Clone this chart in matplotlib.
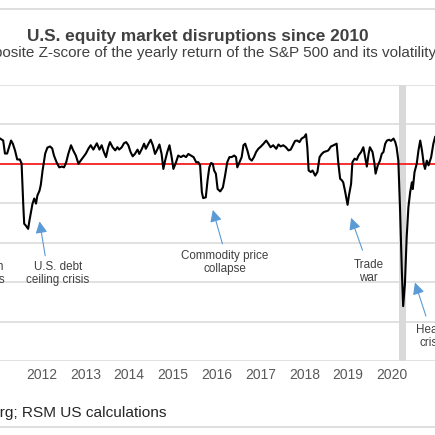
import matplotlib
matplotlib.use("Agg")
import matplotlib.pyplot as plt
from matplotlib.lines import Line2D

plt.rcParams['font.family'] = ['Liberation Sans', 'DejaVu Sans']
plt.rcParams['savefig.bbox'] = 'standard'

# composite z-score (decimal year, score)
years = [2011.05, 2011.12, 2011.16, 2011.21, 2011.30, 2011.34, 2011.39, 2011.44, 2011.50, 2011.54,
         2011.58, 2011.60, 2011.64, 2011.69, 2011.72, 2011.75, 2011.79, 2011.83, 2011.87, 2011.90,
         2011.95, 2011.98, 2012.02, 2012.08, 2012.13, 2012.19, 2012.24, 2012.28, 2012.34, 2012.40,
         2012.46, 2012.51, 2012.56, 2012.61, 2012.67, 2012.72, 2012.78, 2012.84, 2012.89, 2012.95,
         2013.01, 2013.07, 2013.12, 2013.18, 2013.26, 2013.32, 2013.37, 2013.42, 2013.47, 2013.52,
         2013.56, 2013.62, 2013.68, 2013.73, 2013.77, 2013.83, 2013.88, 2013.93, 2013.98, 2014.03,
         2014.08, 2014.13, 2014.19, 2014.23, 2014.29, 2014.34, 2014.38, 2014.44, 2014.49, 2014.54,
         2014.59, 2014.64, 2014.69, 2014.74, 2014.78, 2014.82, 2014.87, 2014.92, 2014.97, 2015.01,
         2015.07, 2015.12, 2015.18, 2015.24, 2015.30, 2015.35, 2015.41, 2015.47, 2015.53, 2015.58,
         2015.62, 2015.66, 2015.69, 2015.75, 2015.79, 2015.83, 2015.87, 2015.91, 2015.94, 2015.98,
         2016.02, 2016.08, 2016.14, 2016.19, 2016.24, 2016.29, 2016.34, 2016.40, 2016.44, 2016.47,
         2016.52, 2016.57, 2016.61, 2016.65, 2016.70, 2016.75, 2016.80, 2016.85, 2016.90, 2016.95,
         2017.01, 2017.07, 2017.13, 2017.18, 2017.23, 2017.29, 2017.36, 2017.41, 2017.46, 2017.52,
         2017.58, 2017.64, 2017.69, 2017.74, 2017.79, 2017.84, 2017.89, 2017.94, 2018.00, 2018.04,
         2018.07, 2018.10, 2018.15, 2018.19, 2018.25, 2018.30, 2018.35, 2018.40, 2018.45, 2018.51,
         2018.55, 2018.61, 2018.67, 2018.74, 2018.78, 2018.82, 2018.86, 2018.89, 2018.93, 2018.97,
         2018.99, 2019.02, 2019.07, 2019.10, 2019.15, 2019.20, 2019.24, 2019.30, 2019.35, 2019.39,
         2019.43, 2019.47, 2019.50, 2019.56, 2019.60, 2019.63, 2019.68, 2019.73, 2019.77, 2019.81,
         2019.85, 2019.89, 2019.94, 2019.98, 2020.04, 2020.08, 2020.11, 2020.15, 2020.19, 2020.23,
         2020.26, 2020.30, 2020.34, 2020.38, 2020.42, 2020.46, 2020.48, 2020.52, 2020.57, 2020.61,
         2020.65, 2020.69, 2020.73, 2020.76, 2020.80, 2020.84, 2020.90, 2020.95, 2020.99]
zscore = [0.64, 0.59, 0.26, 0.26, 0.59, 0.51, 0.34, 0.11, 0.11, 0.01,
          -1.07, -1.52, -1.57, -1.65, -1.44, -1.26, -1.01, -0.88, -1.01, -0.81,
          -0.68, -0.53, -0.17, 0.26, 0.41, 0.44, 0.39, 0.21, 0.04, -0.09,
          -0.07, -0.09, 0.04, 0.26, 0.47, 0.34, 0.21, 0.00, 0.08, 0.17,
          0.26, 0.39, 0.47, 0.36, 0.52, 0.36, 0.47, 0.30, 0.17, 0.42,
          0.55, 0.42, 0.34, 0.42, 0.36, 0.42, 0.52, 0.55, 0.47, 0.30,
          0.19, 0.25, 0.36, 0.25, 0.38, 0.51, 0.38, 0.51, 0.61, 0.47,
          0.25, 0.36, 0.49, 0.25, -0.13, 0.08, 0.30, 0.47, 0.17, -0.13,
          0.04, 0.21, 0.17, 0.21, 0.17, 0.25, 0.21, 0.17, 0.04, 0.04,
          -0.04, -0.72, -0.87, -0.85, -0.42, -0.09, 0.02, 0.00, -0.17, -0.25,
          -0.64, -0.70, -0.60, -0.30, 0.04, 0.17, 0.17, 0.21, 0.17, -0.09,
          0.04, 0.17, 0.47, 0.51, 0.34, 0.13, 0.08, 0.17, 0.30, 0.38,
          0.44, 0.51, 0.59, 0.51, 0.42, 0.47, 0.38, 0.49, 0.44, 0.47,
          0.42, 0.34, 0.36, 0.47, 0.58, 0.59, 0.55, 0.64, 0.68, 0.75,
          0.42, -0.17, -0.21, -0.17, -0.30, -0.21, 0.17, 0.25, 0.30, 0.32,
          0.34, 0.44, 0.47, 0.51, 0.00, -0.38, -0.42, -0.47, -0.68, -0.93,
          -1.04, -0.81, -0.51, 0.04, 0.13, 0.10, 0.21, 0.30, 0.42, 0.17,
          -0.07, 0.25, 0.42, 0.30, 0.04, -0.25, -0.04, 0.08, 0.25, 0.30,
          0.51, 0.59, 0.61, 0.58, 0.64, 0.55, 0.42, 0.08, -1.19, -2.72,
          -3.61, -3.05, -1.87, -1.10, -0.72, -0.47, -0.64, -0.21, 0.00, 0.34,
          0.59, 0.34, 0.00, -0.13, 0.08, -0.04, 0.17, 0.51, 0.68]

year_ticks = list(range(2010, 2022))
recession = (2020.17, 2020.33)

# event labels: text, text position (year, z), arrow tip (year, z), arrow tail (year, z)
events = [
    ("European\ndebt crisis", (2010.54, -2.79), None, None),
    ("U.S. debt\nceiling crisis", (2012.37, -2.79), (2011.95, -1.46), (2012.08, -2.33)),
    ("Commodity price\ncollapse", (2016.18, -2.51), (2015.91, -1.17), (2016.13, -2.03)),
    ("Trade\nwar", (2019.47, -2.73), (2019.07, -1.37), (2019.33, -2.19)),
    ("Health\ncrisis", (2020.93, -4.38), (2020.53, -3.01), (2020.78, -3.86)),
]

fig = plt.figure(figsize=(4.351, 4.351), dpi=100)
ax = fig.add_axes([0, 1 - 361 / 435, 1, 276 / 435])

ax.axvspan(recession[0], recession[1], color='#D9D9D9', lw=0)
ax.set_yticks(range(-5, 3))
ax.yaxis.grid(True, color='#D9D9D9', lw=1.1)
ax.set_axisbelow(True)
ax.axhline(0, color='#FF0000', lw=1.1)
ax.plot(years, zscore, color='black', lw=1.5)

ax.set_xticks(year_ticks)
ax.set_xticklabels([str(y) for y in year_ticks])
ax.tick_params(axis='x', length=0, pad=5, labelsize=10, labelcolor='#595959')
ax.tick_params(axis='y', length=0, labelleft=False)
ax.set_xlim(2011.047, 2020.99)
ax.set_ylim(-5, 2)
for s in ax.spines.values():
    s.set_visible(False)

blue = '#5B9BD5'
for label, txt, tip, tail in events:
    ax.text(txt[0], txt[1], label, ha='center', va='center', fontsize=8.4,
            color='#404040', linespacing=1.1)
    if tip is not None:
        ax.annotate('', xy=tip, xytext=tail,
                    arrowprops=dict(arrowstyle='-|>,head_length=0.7,head_width=0.35',
                                    color=blue, lw=0.8, shrinkA=0, shrinkB=0))

fig.add_artist(Line2D([0, 1], [1 - 9 / 435] * 2, transform=fig.transFigure, color='#D9D9D9', lw=1.2))
fig.add_artist(Line2D([0, 1], [1 - 427 / 435] * 2, transform=fig.transFigure, color='#D9D9D9', lw=1.2))

fig.text(197.5 / 435, 1 - 36 / 435, "U.S. equity market disruptions since 2010",
         ha='center', va='center', fontsize=12.4, fontweight='bold', color='#404040')
fig.text(199 / 435, 1 - 52.5 / 435,
         "Composite Z-score of the yearly return of the S&P 500 and its volatility",
         ha='center', va='center', fontsize=11, color='#404040')
fig.text(166.7 / 435, 1 - 413.3 / 435, "Source: Bloomberg; RSM US calculations",
         ha='right', va='center', fontsize=11.1, color='#262626')

fig.savefig('out.png', dpi=100)
